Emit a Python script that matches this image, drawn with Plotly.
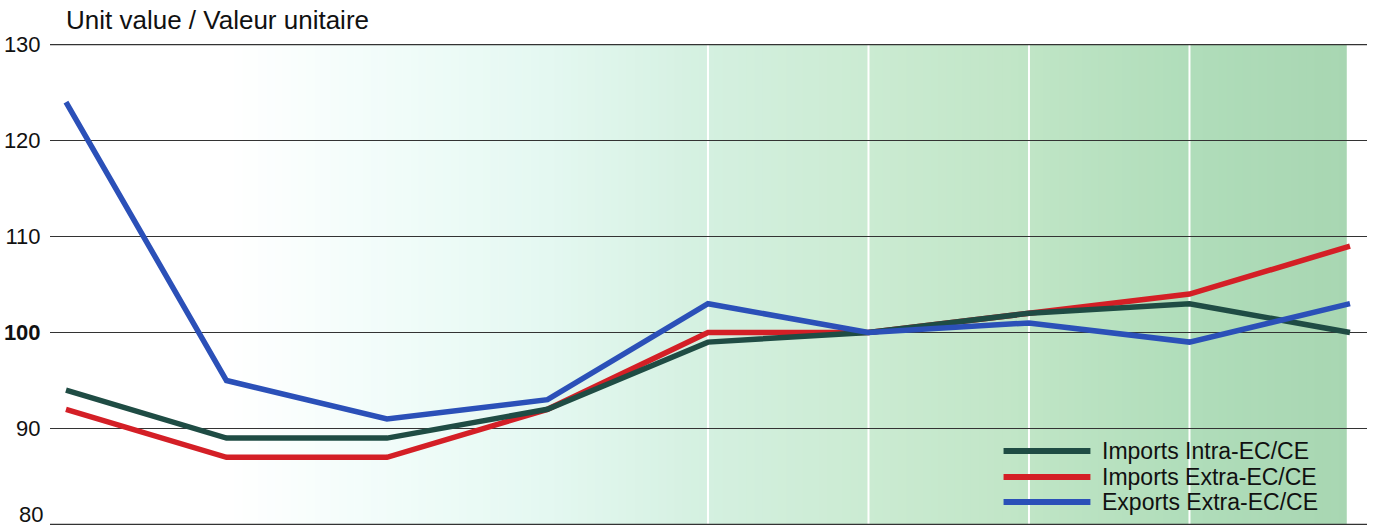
import plotly.graph_objects as go

# ---- data ----
periods = list(range(9))
imports_intra = [94, 89, 89, 92, 99, 100, 102, 103, 100]
imports_extra = [92, 87, 87, 92, 100, 100, 102, 104, 109]
exports_extra = [124, 95, 91, 93, 103, 100, 101, 99, 103]
series_names = ["Imports Intra-EC/CE", "Imports Extra-EC/CE", "Exports Extra-EC/CE"]
series_colors = ["#1f4c44", "#d41f26", "#2b50b8"]
y_ticks = [80, 90, 100, 110, 120, 130]
y_tick_text = ["80", "90", "<b>100</b>", "110", "120", "130"]

FONT = "Liberation Sans"
W, H = 1377, 529
L, R, T, B = 48, 10, 44, 4
PW, PH = W - L - R, H - T - B
X_RANGE = [-0.0995, 8.106]

def px_x(p):
    return (p - L) / PW

def px_y(p):
    return (H - B - p) / PH

fig = go.Figure()
values = {0: imports_intra, 1: imports_extra, 2: exports_extra}
for idx in [1, 0, 2]:  # drawing order: red, dark green, blue on top
    fig.add_trace(go.Scatter(x=periods, y=values[idx], mode="lines",
                             name=series_names[idx], showlegend=False,
                             line=dict(color=series_colors[idx], width=5.5)))

# ---- background gradient (decoration) ----
stops = [  # (x in data units, rgb)
    (1.0, (255, 255, 255)),
    (2.1, (240, 252, 249)),
    (3.0, (228, 248, 241)),
    (4.0, (212, 240, 224)),
    (5.0, (203, 235, 210)),
    (6.0, (192, 229, 198)),
    (7.0, (176, 221, 186)),
    (7.98, (168, 214, 178)),
]

def col_at(x):
    for (xa, ca), (xb, cb) in zip(stops[:-1], stops[1:]):
        if xa <= x <= xb:
            t = (x - xa) / (xb - xa)
            return "rgb(%d,%d,%d)" % tuple(round(a + (b - a) * t) for a, b in zip(ca, cb))
    return "rgb(%d,%d,%d)" % stops[-1][1]

n = 140
x_start, x_end = stops[0][0], stops[-1][0]
w = (x_end - x_start) / n
shapes = []
for i in range(n):
    x0 = x_start + i * w
    x1 = min(x0 + w * 1.05, x_end)
    shapes.append(dict(type="rect", xref="x", yref="y", x0=x0, x1=x1,
                       y0=80, y1=130, fillcolor=col_at(x0 + w / 2),
                       line=dict(width=0), layer="below"))
for xv in [4, 5, 6, 7]:
    shapes.append(dict(type="line", xref="x", yref="y", x0=xv, x1=xv, y0=80, y1=130,
                       line=dict(color="white", width=2), layer="below"))
# edge gridlines (plotly drops gridlines at the range edges)
for yv in [y_ticks[0], y_ticks[-1]]:
    shapes.append(dict(type="line", xref="x", yref="y", x0=X_RANGE[0], x1=X_RANGE[1],
                       y0=yv, y1=yv, line=dict(color="#333", width=1.5), layer="below"))

annotations = [dict(text="Unit value / Valeur unitaire", xref="paper", yref="paper",
                    x=px_x(62), y=px_y(20), xanchor="left", yanchor="middle",
                    showarrow=False, font=dict(family=FONT, size=26, color="#111")),
               dict(text=y_tick_text[0], xref="paper", yref="paper",
                    x=px_x(43), y=px_y(529), xanchor="right", yanchor="bottom",
                    showarrow=False, font=dict(family=FONT, size=22, color="#111"))]

# ---- legend (drawn as shapes + text for exact proportions) ----
legend_rows = [451, 477, 502]
for name, color, ry in zip(series_names, series_colors, legend_rows):
    shapes.append(dict(type="line", xref="paper", yref="paper",
                       x0=px_x(1003), x1=px_x(1090), y0=px_y(ry), y1=px_y(ry),
                       line=dict(color=color, width=6), layer="above"))
    annotations.append(dict(text=name, xref="paper", yref="paper",
                            x=px_x(1100), y=px_y(ry), xanchor="left", yanchor="middle",
                            showarrow=False,
                            font=dict(family=FONT, size=23, color="#111")))

fig.update_layout(
    width=W, height=H,
    margin=dict(l=L, r=R, t=T, b=B),
    paper_bgcolor="white", plot_bgcolor="white",
    shapes=shapes, annotations=annotations,
    showlegend=False,
)
fig.update_xaxes(range=X_RANGE, showgrid=False, zeroline=False,
                 showticklabels=False, showline=False, ticks="")
fig.update_yaxes(range=[79.95, 130.05], tickvals=y_ticks[1:], ticktext=y_tick_text[1:],
                 showgrid=True, gridcolor="#333", gridwidth=1.3, zeroline=False,
                 showline=False, ticks="outside", ticklen=4, tickcolor="rgba(0,0,0,0)",
                 tickfont=dict(family=FONT, size=22, color="#111"))

fig.write_html("out.html", config={"displayModeBar": False},
               post_script="document.body.style.margin='0';document.body.style.overflow='hidden';")
